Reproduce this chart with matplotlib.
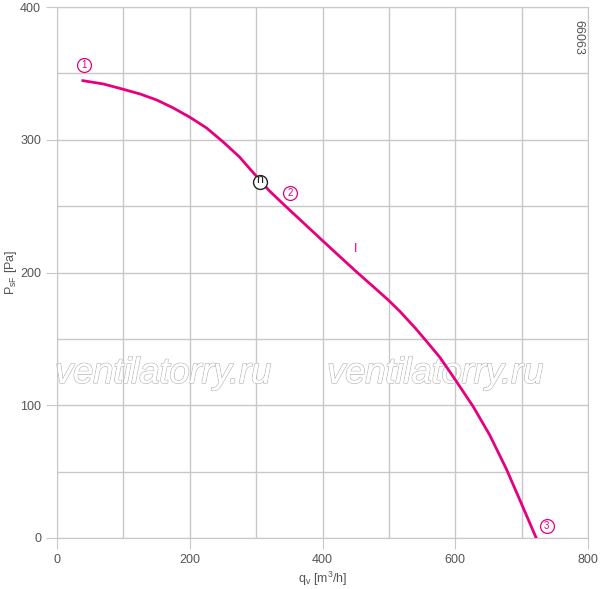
import matplotlib
matplotlib.use("Agg")
import matplotlib.pyplot as plt
import matplotlib.patheffects as pe
import numpy as np

# fan curve: q_v [m3/h] vs P_sF [Pa]
q_curve = [39, 70, 100, 125, 150, 175, 200, 225, 250, 275, 296, 320, 341, 370,
           399, 425, 451, 475, 499, 517, 540, 557, 577, 599, 627, 652, 677, 697, 722]
p_curve = [344.5, 342, 338, 334.5, 330, 324, 317, 309, 298.5, 287, 275, 261.5, 251.5, 238,
           224.5, 212.5, 200.6, 190, 179.3, 170.5, 158, 148, 136, 120, 99, 77.5, 52, 29, 0]

op_point = (306, 268)                       # "n" operating point
marks = ["1", "2", "3"]
mark_q = [40, 351, 738]
mark_p = [356, 260, 9]

x_ticks = [0, 200, 400, 600, 800]
y_ticks = [0, 100, 200, 300, 400]

MAGENTA = "#e6007e"
GRID = "#c8c8c8"
TXT = "#555555"

plt.rcParams["font.family"] = ["Liberation Sans", "DejaVu Sans"]

fig = plt.figure(figsize=(6.0, 5.89), dpi=100)
ax = fig.add_axes([57 / 600, 51 / 589, 531 / 600, 531 / 589])

ax.set_xlim(0, 800); ax.set_ylim(0, 400)
ax.set_xticks(np.arange(0, 801, 100), minor=True)
ax.set_yticks(np.arange(0, 401, 50), minor=True)
ax.set_xticks(x_ticks); ax.set_yticks(y_ticks)
ax.grid(True, which="both", color=GRID, lw=1)
ax.tick_params(which="major", length=8, color=GRID, labelcolor=TXT, labelsize=9)
ax.tick_params(which="minor", length=0)
for s in ax.spines.values():
    s.set_color(GRID)

ax.plot(q_curve, p_curve, color=MAGENTA, lw=2, zorder=3, solid_joinstyle="round")

# operating point marker (white disc hides the curve under it)
ax.plot(*op_point, "o", ms=10, mfc="white", mec="#222222", mew=1, zorder=4)
ax.text(op_point[0], op_point[1] + 1.5, "n", ha="center", va="center", fontsize=9, color="#222222", zorder=5)

# circled point numbers
ax.plot(mark_q, mark_p, "o", ls="none", ms=10, mfc="white", mec=MAGENTA, mew=0.9, zorder=4)
for m, q, p in zip(marks, mark_q, mark_p):
    ax.text(q, p, m, ha="center", va="center", fontsize=7, color=MAGENTA, zorder=5)
ax.text(450, 218, "I", ha="center", va="center", fontsize=9, color=MAGENTA)

ax.text(785, 377, "66063", rotation=270, ha="center", va="center", fontsize=9, color=TXT)

# outlined watermark
for xq in [160, 570]:
    ax.text(xq, 124, "ventilatorry.ru", fontsize=26, style="italic", color="white",
            ha="center", va="center", zorder=2,
            path_effects=[pe.withStroke(linewidth=1.1, foreground="#b8b8b8"), pe.Normal()])

ax.set_xlabel("q$_\\mathregular{v}$ [m$^\\mathregular{3}$/h]", fontsize=9, color=TXT, labelpad=3)
ax.set_ylabel("P$_\\mathregular{sF}$ [Pa]", fontsize=9, color=TXT, labelpad=1)

fig.savefig("out.png", dpi=100)
